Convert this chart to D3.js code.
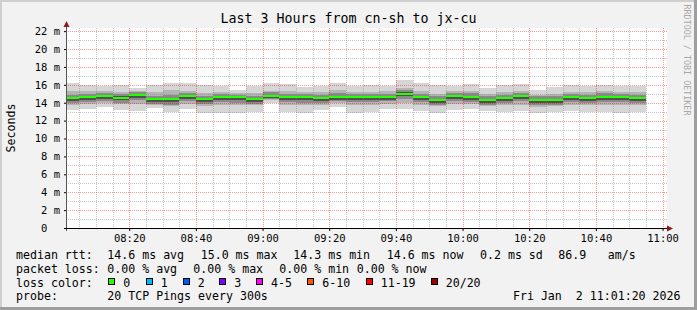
<!DOCTYPE html>
<html><head><meta charset="utf-8">
<script src="https://cdn.jsdelivr.net/npm/d3@7"></script>
<style>
body{margin:0;background:#f2f2f2}
svg{display:block}
text{font-family:"DejaVu Sans Mono",monospace}
</style>
</head><body><svg id="c" width="697" height="310"></svg>
<script>
// ---- data ----
const title = "Last 3 Hours from cn-sh to jx-cu";
const startTime = "08:01:20", endTime = "11:01:20";
const barEnds = ["08:05","08:10","08:15","08:20","08:25","08:30","08:35","08:40","08:45","08:50","08:55","09:00",
  "09:05","09:10","09:15","09:20","09:25","09:30","09:35","09:40","09:45","09:50","09:55","10:00",
  "10:05","10:10","10:15","10:20","10:25","10:30","10:35","10:40","10:45","10:50","10:55"];
const median = [14.5,14.6,14.7,14.55,14.87,14.4,14.4,14.72,14.4,14.6,14.6,14.4,
  14.75,14.62,14.62,14.52,14.65,14.65,14.62,14.65,15.0,14.62,14.3,14.72,
  14.65,14.3,14.5,14.72,14.3,14.3,14.62,14.5,14.65,14.62,14.52];
const smokeMax = [16.15,16.0,15.9,16.0,15.7,16.0,16.2,16.2,16.0,15.85,15.45,15.85,
  16.2,16.1,15.75,15.9,16.2,15.9,16.0,15.9,16.5,16.2,16.0,15.85,
  16.1,15.7,16.0,16.1,15.45,15.75,16.0,15.85,16.0,15.85,15.9];
const smokeMin = [13.15,13.27,13.56,13.2,13.1,13.45,13.0,13.3,12.8,12.8,12.9,13.0,
  14.0,13.0,12.9,13.2,13.56,12.9,13.0,13.27,13.27,13.1,12.8,13.2,
  13.27,13.1,13.0,13.1,12.9,13.0,13.1,13.0,13.0,12.8,13.0];
const midHi = [15.3,15.3,15.3,15.2,15.3,15.2,15.4,15.3,15.1,15.2,15.1,15.1,
  15.3,15.3,15.2,15.2,15.4,15.2,15.2,15.3,15.6,15.3,15.0,15.3,
  15.3,15.0,15.2,15.3,14.9,15.0,15.2,15.2,15.3,15.2,15.2];
const midLo = [13.8,13.9,14.0,13.9,13.9,13.8,13.6,13.9,13.6,13.7,13.7,13.8,
  14.3,13.8,13.7,13.8,14.0,13.7,13.8,13.9,14.0,13.8,13.6,13.9,
  13.9,13.6,13.7,13.8,13.5,13.6,13.8,13.7,13.8,13.7,13.8];
const innerHi = [14.9,15.0,15.1,15.0,15.2,14.8,14.9,15.1,14.8,15.0,14.9,14.8,
  15.2,15.0,15.0,14.9,15.1,15.0,15.0,15.0,15.4,15.0,14.7,15.1,
  15.1,14.7,14.9,15.1,14.7,14.7,15.0,14.9,15.1,15.0,14.9];
const innerLo = [14.0,14.1,14.2,14.0,14.3,13.9,13.8,14.2,13.9,14.1,14.0,13.9,
  14.4,14.1,14.0,14.0,14.2,14.1,14.1,14.2,14.4,14.1,13.8,14.2,
  14.1,13.8,14.0,14.2,13.8,13.8,14.1,14.0,14.1,14.1,14.0];
const coreHi = [14.65,14.75,14.85,14.7,15.0,14.55,14.55,14.85,14.55,14.75,14.75,14.55,
  14.9,14.75,14.75,14.65,14.8,14.8,14.75,14.8,15.15,14.75,14.45,14.85,
  14.8,14.45,14.65,14.85,14.45,14.45,14.75,14.65,14.8,14.75,14.65];
const coreLo = [14.2,14.3,14.4,14.25,14.55,14.1,14.1,14.4,14.1,14.3,14.3,14.1,
  14.5,14.3,14.3,14.2,14.35,14.35,14.3,14.35,14.7,14.3,14.0,14.4,
  14.35,14.0,14.2,14.4,14.0,14.0,14.3,14.2,14.35,14.3,14.2];
const yTicks = [0,2,4,6,8,10,12,14,16,18,20,22];
const yMax = 22.35;
const legendRows = [
  [["median rtt:",16],["14.6 ms avg",107.3],["15.0 ms max",200.7],["14.3 ms min",293.3],["14.6 ms now",386.7],["0.2 ms sd",480],["86.9",558.3],["am/s",607.7]],
  [["packet loss:",16],["0.00 % avg",107.3],["0.00 % max",193.3],["0.00 % min",279.3],["0.00 % now",356.7]],
  [["loss color:",16]],
  [["probe:",16],["20 TCP Pings every 300s",107.3]]
];
const lossLabels = ["0","1","2","3","4-5","6-10","11-19","20/20"];
const lossColors = ["#26ff00","#00b8ff","#0059ff","#7e00ff","#ff00ff","#ff5500","#ff0000","#a10000"];
const dateStamp = "Fri Jan  2 11:01:20 2026";
const watermark = "RRDTOOL / TOBI OETIKER";

// ---- drawing ----
const W = 697, H = 310;
const svg = d3.select("#c");
const parse = s => { const p = s.split(":").map(Number); return new Date(2026,0,2,p[0],p[1],p[2]||0); };
const x = d3.scaleTime().domain([parse(startTime), parse(endTime)]).range([67, 667]);
const y = d3.scaleLinear().domain([0, yMax]).range([228, 28]);

const minorC = "rgba(128,128,128,0.45)", majorC = "rgba(255,0,0,0.42)";
const defs = svg.append("defs");
[["hMinor",2,1,minorC],["hMajor",2,1,majorC],["vMinor",1,2,minorC],["vMajor",1,2,majorC]].forEach(([id,w,h,c]) => {
  defs.append("pattern").attr("id",id).attr("patternUnits","userSpaceOnUse").attr("width",w).attr("height",h)
    .append("rect").attr("width",1).attr("height",1).attr("fill",c);
});

svg.append("rect").attr("width",W).attr("height",H).attr("fill","#f2f2f2");
svg.append("rect").attr("x",0).attr("y",0).attr("width",W).attr("height",2).attr("fill","#cfcfcf");
svg.append("rect").attr("x",0).attr("y",0).attr("width",2).attr("height",H).attr("fill","#cfcfcf");
svg.append("rect").attr("x",0).attr("y",H-3).attr("width",W).attr("height",3).attr("fill","#9e9e9e");
svg.append("rect").attr("x",W-3).attr("y",0).attr("width",3).attr("height",H).attr("fill","#9e9e9e");

svg.append("rect").attr("x",67).attr("y",28).attr("width",600).attr("height",200).attr("fill","#ffffff");

// smoke
const bars = barEnds.map((e,i) => {
  const t1 = parse(e), t0 = new Date(t1.getTime() - 300000);
  return {x0: Math.max(x(t0), 67), x1: x(t1), i};
});
const layers = [[smokeMin, smokeMax, "#d6d6d6"],[midLo, midHi, "#b4b4b4"],[innerLo, innerHi, "#8a8a8a"],[coreLo, coreHi, "#505050"]];
const gS = svg.append("g").attr("shape-rendering","crispEdges");
layers.forEach(([lo, hi, col]) => {
  gS.selectAll(null).data(bars).enter().append("rect")
    .attr("x", d => d.x0).attr("width", d => d.x1 - d.x0)
    .attr("y", d => y(hi[d.i])).attr("height", d => y(lo[d.i]) - y(hi[d.i]))
    .attr("fill", col);
});

// grid (dotted, 1 on / 1 off)
const gG = svg.append("g").attr("shape-rendering","crispEdges");
const minorT = d3.timeMinute.every(5).range(parse("08:05"), parse("11:01"));
minorT.forEach(t => {
  const major = t.getMinutes() % 20 === 0;
  gG.append("rect").attr("x", Math.round(x(t))).attr("y", 28).attr("width", 1).attr("height", 200)
    .attr("fill", major ? "url(#vMajor)" : "url(#vMinor)");
});
d3.range(1, 23).forEach(v => {
  const major = v % 2 === 0;
  gG.append("rect").attr("x", 67).attr("y", Math.round(y(v))).attr("width", 600).attr("height", 1)
    .attr("fill", major ? "url(#hMajor)" : "url(#hMinor)");
});

// median
svg.append("g").attr("shape-rendering","crispEdges").selectAll("rect").data(bars).enter().append("rect")
  .attr("x", d => d.x0).attr("width", d => d.x1 - d.x0)
  .attr("y", d => Math.round(y(median[d.i])) - 1).attr("height", 2)
  .attr("fill", lossColors[0]);

// axes
const majors = d3.timeMinute.every(20).range(parse("08:20"), parse("11:01"));
const gx = svg.append("g").attr("transform","translate(0,228)")
  .call(d3.axisBottom(x).tickValues(majors).tickSize(3).tickPadding(3.5).tickFormat(d3.timeFormat("%H:%M")));
gx.select(".domain").remove();
gx.selectAll("text").attr("font-size","10.5px").attr("font-family","DejaVu Sans Mono").attr("fill","#000");
gx.selectAll("line").attr("stroke","#000");

const gy = svg.append("g").attr("transform","translate(67,0)")
  .call(d3.axisLeft(y).tickValues(yTicks).tickSize(3).tickPadding(4)
    .tickFormat(d => d === 0 ? "0  " : d + " m"));
gy.select(".domain").remove();
gy.selectAll("text").attr("font-size","10.5px").attr("font-family","DejaVu Sans Mono")
  .attr("fill","#000").style("white-space","pre");
gy.selectAll("line").attr("stroke","#000");

svg.append("line").attr("x1",66.5).attr("x2",66.5).attr("y1",25).attr("y2",231).attr("stroke","#555");
svg.append("line").attr("x1",64).attr("x2",670).attr("y1",228.5).attr("y2",228.5).attr("stroke","#000");
svg.append("path").attr("d","M66.5,21 L63.5,27 L69.5,27 Z").attr("fill","#8b1a1a");
svg.append("path").attr("d","M673,228.5 L667,225.5 L667,231.5 Z").attr("fill","#8b1a1a");

svg.append("text").attr("x",348.5).attr("y",23).attr("text-anchor","middle")
  .attr("font-size","13.3px").attr("fill","#000").text(title);
svg.append("text").attr("transform","translate(15,128) rotate(-90)").attr("text-anchor","middle")
  .attr("font-size","11.6px").attr("fill","#000").text("Seconds");
svg.append("text").attr("transform","translate(684,60) rotate(90)").attr("text-anchor","middle")
  .attr("font-size","8.4px").attr("fill","#a8a8a8").text(watermark);

const baselines = [259, 272.8, 286.6, 300.4];
legendRows.forEach((row, r) => {
  row.forEach(([s, px]) => {
    svg.append("text").attr("x", px).attr("y", baselines[r]).attr("font-size","11.6px")
      .attr("fill","#000").style("white-space","pre").text(s);
  });
});
const boxX = [108.3,145.7,182.7,219.3,256,307.3,365.7,430.7];
lossLabels.forEach((l, i) => {
  svg.append("rect").attr("x", Math.round(boxX[i])+0.5).attr("y", 278.5).attr("width",6).attr("height",6)
    .attr("fill", lossColors[i]).attr("stroke","#000");
  svg.append("text").attr("x", boxX[i] + 15).attr("y", baselines[2]).attr("font-size","11.6px")
    .attr("fill","#000").text(l);
});
svg.append("text").attr("x", 680.5).attr("y", baselines[3]).attr("text-anchor","end")
  .attr("font-size","11.6px").attr("fill","#000").style("white-space","pre").text(dateStamp);
</script>
</body></html>
